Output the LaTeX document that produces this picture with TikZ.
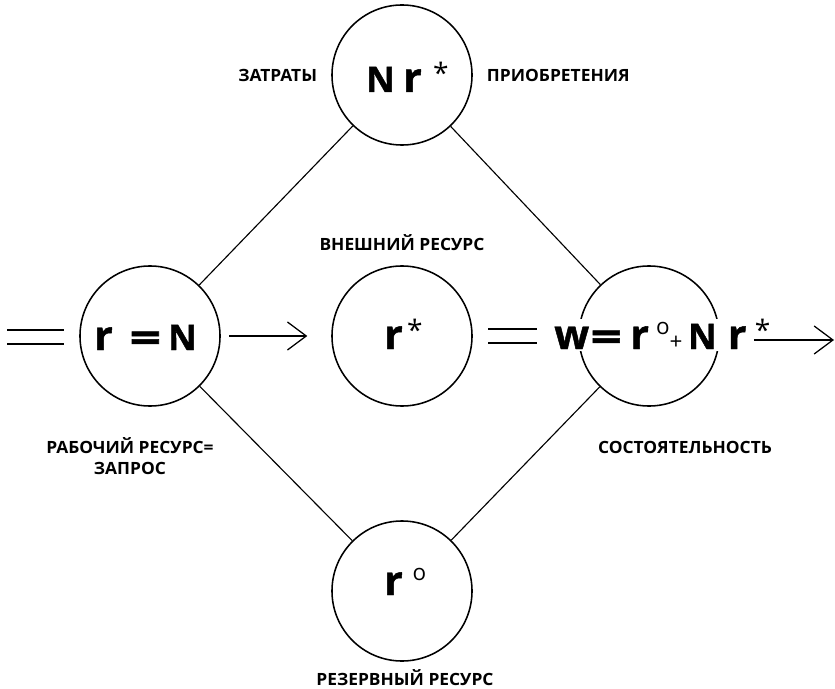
\documentclass[tikz,border=0pt]{standalone}
\usepackage{fontspec}
\usepackage{graphicx}
\setmainfont{Open Sans}
\newfontfamily\labfont[FakeStretch=1.03]{Open Sans}
\newfontfamily\bigfont[BoldFeatures={FakeBold=1.2}]{Open Sans}
\usetikzlibrary{arrows.meta}
% big lower-case letter, wide equals sign, and raised small marks
\newcommand{\lo}[1]{{\fontsize{29}{29}\selectfont #1}}
\newcommand{\eqs}{\raisebox{-1.5pt}{\scalebox{1.35}[1]{\lo{=}}}}
\newcommand{\extmark}{\raisebox{6pt}{\fontsize{20}{20}\selectfont\mdseries *}}
\newcommand{\resmark}{\raisebox{10.5pt}{\fontsize{16}{16}\selectfont\mdseries o}}
\tikzset{
  res/.style={circle,draw,line width=1.1pt,minimum size=3.5cm,inner sep=0pt},
  big/.style={font=\bigfont\fontsize{25}{28}\selectfont\bfseries,anchor=base west,inner sep=0pt},
  lab/.style={font=\labfont\fontsize{12}{15}\selectfont\bfseries,align=center},
  flow/.style={-{Straight Barb[length=4.7mm,width=7mm]},line width=0.9pt},
  eq/.style={double,double distance=8.5pt,line width=1.1pt},
}
\begin{document}
\begin{tikzpicture}[x=0.025cm,y=-0.025cm]
  \useasboundingbox (0,0) rectangle (835,689);
  % the five resources
  \node[res] (top) at (402,75) {};
  \node[res] (left) at (150,336) {};
  \node[res] (mid) at (402,336) {};
  \node[res] (right) at (649,336) {};
  \node[res] (bot) at (402,591) {};
  \node[big] (ltxt) at (94,350) {\lo{r}\hspace{12pt}\eqs\hspace{5pt}N};
  \node[big] (ttxt) at (366,92) {N\hspace{6pt}\lo{r}\hspace{8pt}\extmark};
  \node[big] (mtxt) at (384,349) {\lo{r}\hspace{3pt}\extmark};
  \node[big] (btxt) at (384,595) {\lo{r}\hspace{7pt}\resmark};
  \node[big,fill=white] (rtxt) at (554,349) {\lo{w}\hspace{1pt}\eqs\hspace{6pt}\lo{r}\hspace{5pt}\resmark{\fontsize{16}{16}\selectfont\mdseries +}\hspace{4pt}N\hspace{8pt}\lo{r}\hspace{6pt}\extmark};
  % diamond
  \draw[line width=0.8pt] (top) -- (left);
  \draw[line width=0.8pt] (top) -- (right);
  \draw[line width=0.8pt] (left) -- (bot);
  \draw[line width=0.8pt] (right) -- (bot);
  % flows
  \coordinate (in) at (7,337);
  \coordinate (out) at (834,340);
  \draw[eq,shorten >=11] (in) -- (left.west |- in);
  \draw[eq,shorten <=11,shorten >=12] (mid.east) -- (mid.east -| rtxt.west);
  \draw[flow,shorten <=6,shorten >=17] (left.east) -- (mid.west);
  \draw[flow,shorten <=-12] (rtxt.east |- out) -- (out);
  % labels
  \node[lab,anchor=east] (zat) at (322,75) {ЗАТРАТЫ};
  \node[lab,anchor=west] (pri) at (482,75) {ПРИОБРЕТЕНИЯ};
  \node[lab] (vne) at (402,243) {ВНЕШНИЙ РЕСУРС};
  \node[lab] (rab) at (130,456) {РАБОЧИЙ РЕСУРС=\\ЗАПРОС};
  \node[lab] (sos) at (685,447) {СОСТОЯТЕЛЬНОСТЬ};
  \node[lab] (rez) at (405,678) {РЕЗЕРВНЫЙ РЕСУРС};
\end{tikzpicture}
\end{document}
